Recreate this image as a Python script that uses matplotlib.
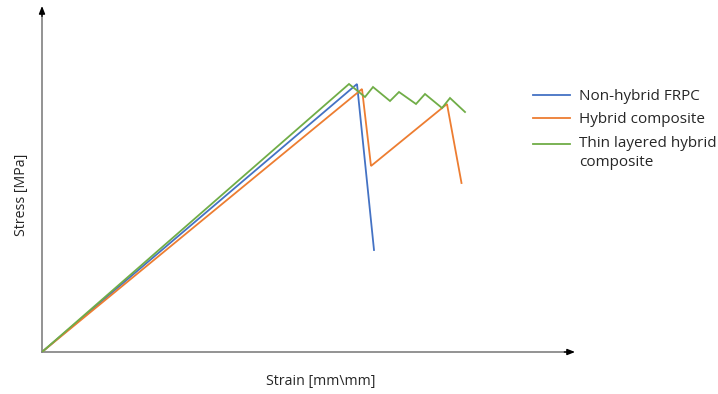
import matplotlib
matplotlib.use("Agg")
import matplotlib.pyplot as plt
from matplotlib.legend_handler import HandlerLine2D

plt.rcParams['font.family'] = ['Open Sans', 'DejaVu Sans']

# Data (arbitrary units, no ticks on the original chart)
series_names = ["Non-hybrid FRPC", "Hybrid composite", "Thin layered hybrid\ncomposite"]
colors = ["#4472C4", "#ED7D31", "#70AD47"]

nonhybrid_strain = [0.0, 3.15, 3.32]
nonhybrid_stress = [0.0, 2.68, 1.02]

hybrid_strain = [0.0, 3.20, 3.29, 4.05, 4.195]
hybrid_stress = [0.0, 2.63, 1.86, 2.48, 1.69]

thin_strain = [0.0, 3.07, 3.23, 3.31, 3.48, 3.57, 3.74, 3.83, 4.00, 4.08, 4.23]
thin_stress = [0.0, 2.68, 2.55, 2.65, 2.51, 2.60, 2.48, 2.58, 2.44, 2.54, 2.40]


class FirstLineHandler(HandlerLine2D):
    """Place the legend line next to the first line of a two-line label."""
    def __init__(self, shift, **kw):
        super().__init__(**kw)
        self.shift = shift

    def create_artists(self, legend, orig_handle, xdescent, ydescent, width,
                       height, fontsize, trans):
        return super().create_artists(legend, orig_handle, xdescent,
                                      ydescent - self.shift, width, height,
                                      fontsize, trans)


W, H = 718, 394
fig = plt.figure(figsize=(W / 100, H / 100), dpi=100)
x0, y0 = 42, 352
x1, y1 = 575, 6
ax = fig.add_axes([x0 / W, (H - y0) / H, (x1 - x0) / W, (y0 - y1) / H])
ax.set_xlim(0, (x1 - x0) / 100)
ax.set_ylim(0, (y0 - y1) / 100)

lines = []
for xs, ys, c, name in zip([nonhybrid_strain, hybrid_strain, thin_strain],
                           [nonhybrid_stress, hybrid_stress, thin_stress],
                           colors, series_names):
    l, = ax.plot(xs, ys, color=c, lw=1.3, label=name, solid_joinstyle='miter', zorder=3)
    lines.append(l)

for s in ax.spines.values():
    s.set_visible(False)
ax.set_xticks([])
ax.set_yticks([])

# axes lines (gray) with small black arrow heads
ax.plot([0, 0.985], [0, 0], transform=ax.transAxes, color="#808080", lw=1.2,
        clip_on=False, zorder=2)
ax.plot([0, 0], [0, 0.975], transform=ax.transAxes, color="#808080", lw=1.2,
        clip_on=False, zorder=2)
ax.annotate("", xy=(1.0, 0), xytext=(0.98, 0), xycoords='axes fraction',
            arrowprops=dict(arrowstyle="-|>,head_length=0.45,head_width=0.18",
                            color="black", lw=1.0, shrinkA=0, shrinkB=0),
            annotation_clip=False)
ax.annotate("", xy=(0, 1.0), xytext=(0, 0.97), xycoords='axes fraction',
            arrowprops=dict(arrowstyle="-|>,head_length=0.45,head_width=0.18",
                            color="black", lw=1.0, shrinkA=0, shrinkB=0),
            annotation_clip=False)

fig.text(321 / W, 1 - 381 / H, "Strain [mm\\mm]", ha='center', va='center',
         fontsize=10.2, color="#262626")
fig.text(22 / W, 1 - 195 / H, "Stress [MPa]", ha='center', va='center',
         rotation=90, fontsize=10.2, color="#262626")

leg = fig.legend(handles=lines, labels=series_names, loc='upper left',
                 bbox_to_anchor=(533 / W, 1 - 89 / H), frameon=False,
                 fontsize=11, handlelength=2.4, handletextpad=0.6,
                 labelspacing=0.55, borderaxespad=0, borderpad=0,
                 handler_map={lines[2]: FirstLineHandler(shift=13.5)})
for t in leg.get_texts():
    t.set_color("#262626")
    t.set_linespacing(1.35)

fig.savefig("out.png", dpi=100)
